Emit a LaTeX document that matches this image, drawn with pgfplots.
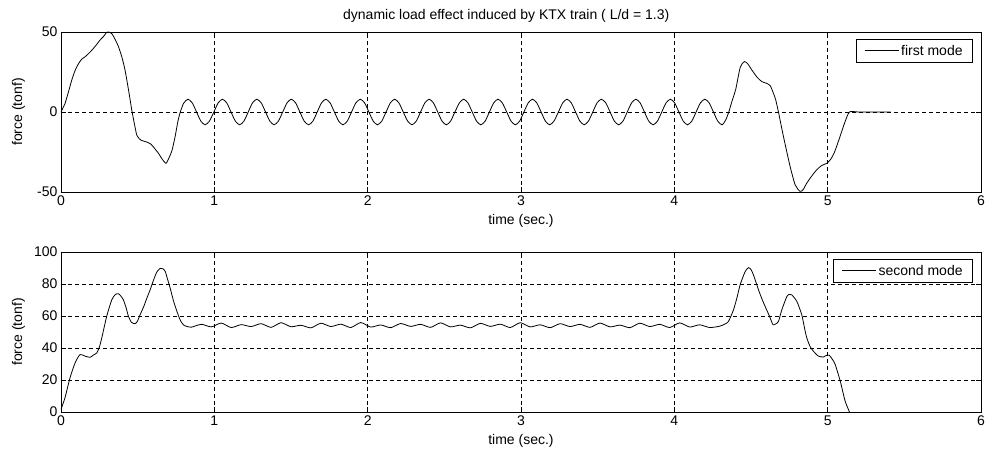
\documentclass[border=0pt]{standalone}
\usepackage{fontspec}
\setmainfont{Liberation Sans}
\usepackage{pgfplots}
\pgfplotsset{compat=1.18}
\newcommand{\fs}{\fontsize{14}{16}\selectfont}
\pgfplotsset{
  mystyle/.style={
    scale only axis, width=920pt, height=160pt,
    xmin=0, xmax=6, xtick={0,1,2,3,4,5,6},
    grid=major,
    major grid style={black, line width=0.8pt, dash pattern=on 4pt off 3pt},
    axis line style={black, line width=0.8pt},
    tick style={black, line width=0.8pt},
    tick align=inside, major tick length=5pt,
    font=\fs,
    ticklabel style={font=\fs},
    /pgf/number format/assume math mode=true,
    xlabel={time (sec.)},
    ylabel={force (tonf)},
    xlabel style={at={(axis description cs:0.5,0)}, anchor=north, yshift=-19pt},
    ylabel style={at={(axis description cs:-0.0462,0.5)}, anchor=center},
    legend style={at={(axis description cs:0.9913,0.956)}, anchor=north east,
      draw=black, line width=0.8pt, fill=white, font=\fs, inner xsep=8pt, inner ysep=3.5pt},
    legend cell align=left,
    legend image code/.code={\path (0pt,0pt) -- (34pt,0pt);\draw[line width=0.8pt] (0pt,0pt) -- (26pt,0pt);},
    clip=true,
  }
}
\begin{document}
\begin{tikzpicture}
\path[use as bounding box] (0pt,0pt) rectangle (985pt,-452pt);
\begin{axis}[mystyle, at={(61pt,-32pt)}, anchor=north west,
  ymin=-50, ymax=50, ytick={-50,0,50},
  title={dynamic load effect induced by KTX train ( L/d = 1.3)},
  title style={at={(axis description cs:0.484,1)}, anchor=south, yshift=0pt, font=\fs}]
\addplot[black, line width=0.8pt, smooth, tension=0.4] coordinates {
(0,0) (0.015,3) (0.026,5.2) (0.05,13) (0.07,19.9) (0.09,25.5) (0.113,30) (0.135,33)
(0.157,34.5) (0.185,37) (0.211,39.7) (0.235,42.5) (0.255,45) (0.28,47.5) (0.298,49.8)
(0.31,50) (0.331,49) (0.355,45) (0.375,40.8) (0.398,34) (0.418,26) (0.44,14) (0.462,1)
(0.48,-8) (0.495,-14.6) (0.52,-17.5) (0.56,-18.8) (0.585,-20) (0.604,-22) (0.637,-26)
(0.66,-29.5) (0.685,-32) (0.705,-28.5) (0.724,-24) (0.745,-15) (0.762,-6) (0.778,0)
(0.80,5.5)
(0.828,8) (0.856,5.7) (0.884,0) (0.912,-5.7) (0.940,-8) (0.968,-5.7) (0.997,0) (1.025,5.7)
(1.053,8) (1.081,5.7) (1.109,0) (1.137,-5.7) (1.165,-8) (1.193,-5.7) (1.221,0) (1.249,5.7)
(1.277,8) (1.306,5.7) (1.334,0) (1.362,-5.7) (1.390,-8) (1.418,-5.7) (1.446,0) (1.474,5.7)
(1.502,8) (1.530,5.7) (1.558,0) (1.586,-5.7) (1.615,-8) (1.643,-5.7) (1.671,0) (1.699,5.7)
(1.727,8) (1.755,5.7) (1.783,0) (1.811,-5.7) (1.839,-8) (1.867,-5.7) (1.895,0) (1.923,5.7)
(1.952,8) (1.980,5.7) (2.008,0) (2.036,-5.7) (2.064,-8) (2.092,-5.7) (2.120,0) (2.148,5.7)
(2.176,8) (2.204,5.7) (2.232,0) (2.261,-5.7) (2.289,-8) (2.317,-5.7) (2.345,0) (2.373,5.7)
(2.401,8) (2.429,5.7) (2.457,0) (2.485,-5.7) (2.513,-8) (2.541,-5.7) (2.569,0) (2.598,5.7)
(2.626,8) (2.654,5.7) (2.682,0) (2.710,-5.7) (2.738,-8) (2.766,-5.7) (2.794,0) (2.822,5.7)
(2.850,8) (2.878,5.7) (2.907,0) (2.935,-5.7) (2.963,-8) (2.991,-5.7) (3.019,0) (3.047,5.7)
(3.075,8) (3.103,5.7) (3.131,0) (3.159,-5.7) (3.187,-8) (3.215,-5.7) (3.244,0) (3.272,5.7)
(3.300,8) (3.328,5.7) (3.356,0) (3.384,-5.7) (3.412,-8) (3.440,-5.7) (3.468,0) (3.496,5.7)
(3.524,8) (3.553,5.7) (3.581,0) (3.609,-5.7) (3.637,-8) (3.665,-5.7) (3.693,0) (3.721,5.7)
(3.749,8) (3.777,5.7) (3.805,0) (3.833,-5.7) (3.862,-8) (3.890,-5.7) (3.918,0) (3.946,5.7)
(3.974,8) (4.002,5.7) (4.030,0) (4.058,-5.7) (4.086,-8) (4.114,-5.7) (4.142,0) (4.170,5.7)
(4.199,8) (4.227,5.7) (4.255,0) (4.283,-5.7) (4.311,-8)
(4.335,-5) (4.355,0) (4.38,8) (4.40,14) (4.43,28) (4.457,31.5) (4.48,30) (4.50,27)
(4.54,21.7) (4.571,19) (4.60,18) (4.625,16.5) (4.645,12) (4.66,8) (4.679,0) (4.712,-15.5)
(4.755,-34) (4.788,-45.5) (4.82,-49.6) (4.84,-48.5) (4.864,-44.4) (4.90,-39.5) (4.93,-36)
(4.96,-33.5) (4.995,-32) (5.02,-29.5) (5.045,-25) (5.08,-15.5) (5.11,-7) (5.142,0)
(5.2,0) (5.3,0) (5.41,0)
};
\addlegendentry{first mode\hspace{5pt}}
\end{axis}
\begin{axis}[mystyle, at={(61pt,-252pt)}, anchor=north west,
  ymin=0, ymax=100, ytick={0,20,40,60,80,100}]
\addplot[black, line width=0.8pt, smooth, tension=0.4] coordinates {
(0,1.7) (0.026,8.9) (0.059,21.4) (0.092,30.7) (0.124,35.9) (0.157,34.9) (0.19,34.2)
(0.21,35.5) (0.233,36.9) (0.25,40.5) (0.266,46.3) (0.298,59.8) (0.331,70.1) (0.355,73.5)
(0.375,73.9) (0.39,72.5) (0.407,70.1) (0.425,65) (0.44,59.8) (0.46,56) (0.484,55.2)
(0.50,57) (0.516,60.8) (0.54,66) (0.56,71.2) (0.58,76) (0.604,82.6) (0.625,87.5)
(0.647,89.8) (0.665,89.5) (0.68,87.8) (0.695,83) (0.712,77.4) (0.735,69) (0.756,62.9)
(0.775,58) (0.789,55.6) (0.805,54) (0.821,53.5)
(0.850,53.0) (0.915,54.8) (0.980,53.2) (1.045,55.6) (1.110,52.8) (1.175,54.6)
(1.240,53.4) (1.305,55.2) (1.370,52.9) (1.435,55.8) (1.500,53.3) (1.565,54.2)
(1.630,52.6) (1.695,55.5) (1.760,53.4) (1.825,54.9) (1.890,52.8) (1.955,55.9)
(2.020,53.1) (2.085,54.4) (2.150,52.7) (2.215,55.3) (2.280,53.5) (2.345,54.8)
(2.410,52.9) (2.475,55.7) (2.540,53.2) (2.605,54.3) (2.670,52.6) (2.735,55.4)
(2.800,53.5) (2.865,54.9) (2.930,52.8) (2.995,55.8) (3.060,53.2) (3.125,54.5)
(3.190,52.7) (3.255,55.2) (3.320,53.4) (3.385,54.8) (3.450,52.9) (3.515,55.6)
(3.580,53.2) (3.645,54.3) (3.710,52.7) (3.775,55.5) (3.840,53.4) (3.905,54.8)
(3.970,52.8) (4.035,55.7) (4.100,53.1) (4.165,54.5) (4.230,52.8) (4.295,53.6)
(4.33,55) (4.353,56.6) (4.386,63.9) (4.41,72) (4.429,79.5) (4.462,87.8) (4.484,90.2)
(4.50,89) (4.516,85.7) (4.549,76.3) (4.57,71) (4.592,66) (4.62,60) (4.643,54.6)
(4.66,55) (4.679,56.6) (4.701,63.9) (4.734,72.2) (4.75,73.5) (4.766,73.2) (4.799,69.1)
(4.831,60.8) (4.85,52) (4.864,46.3) (4.885,41) (4.907,38) (4.94,34.9) (4.973,34.4)
(4.99,35.3) (5.01,35.5) (5.03,33) (5.049,29.7) (5.082,19.3) (5.114,6.8) (5.142,0)
(5.17,-8)
};
\addlegendentry{second mode\hspace{5pt}}
\end{axis}
\end{tikzpicture}
\end{document}
